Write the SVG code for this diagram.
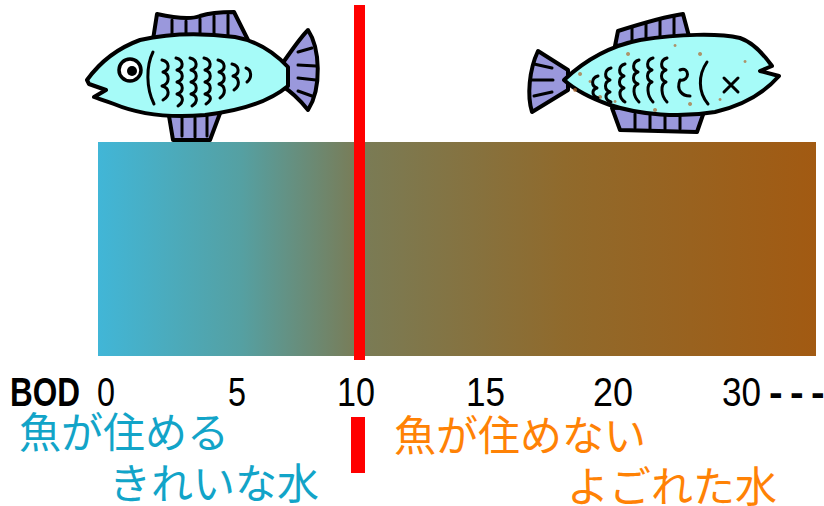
<svg xmlns="http://www.w3.org/2000/svg" width="824" height="506" viewBox="0 0 824 506">
  <defs>
    <linearGradient id="water" x1="0" y1="0" x2="1" y2="0">
      <stop offset="0" stop-color="#41b6d7"/>
      <stop offset="0.2" stop-color="#55a0a2"/>
      <stop offset="0.36" stop-color="#797c57"/>
      <stop offset="0.65" stop-color="#906a2c"/>
      <stop offset="1" stop-color="#a25a12"/>
    </linearGradient>
    <style>
      .outline { stroke: #000; stroke-width: 4; stroke-linejoin: round; stroke-linecap: round; }
      .body { fill: #a6fbf8; }
      .fin { fill: #9a98dc; }
      .line { fill: none; stroke: #000; stroke-width: 3; stroke-linecap: round; stroke-linejoin: round; }
      .num { font-family: "Liberation Sans", "DejaVu Sans", sans-serif; font-size: 41px; fill: #000; }
      .jp { font-family: "Noto Sans CJK JP", sans-serif; font-size: 42px; }
      .clean { fill: #12a4c8; }
      .dirty { fill: #ff8205; }
      .marker { fill: #ff0000; }
      .speck { fill: #b0662e; opacity: 0.7; }
    </style>
  </defs>

  <!-- water quality scale -->
  <g id="scale-bar">
    <rect x="98" y="142" width="718" height="214" fill="url(#water)"/>
  </g>

  <!-- healthy fish, facing left -->
  <g id="fish-healthy">
    <path class="fin outline" d="M152,46 L157,14 C175,18 190,20 200,16 C212,12 225,12 234,12 L250,44 Z"/>
    <path class="line" d="M172,20 V40 M186,21 V42 M200,19 V42 M214,16 V42 M228,15 V40"/>
    <path class="fin outline" d="M168,110 L173,140 L210,140 L222,108 Z"/>
    <path class="line" d="M182,118 V136 M195,118 V137 M207,116 V136"/>
    <path class="fin outline" d="M282,64 C292,50 300,38 308,30 C320,48 322,88 308,110 C300,100 292,92 282,86 Z"/>
    <path class="line" d="M298,52 L312,48 M298,65 L316,66 M298,78 L316,80 M298,91 L312,96"/>
    <path class="body outline" d="M87,80 C100,62 118,48 140,40 C170,33 205,33 235,37 C258,41 274,52 288,67 L288,86 C270,101 240,111 205,115 C170,118 138,114 114,104 C106,101 99,99 94,97 L106,90 L89,84 Z"/>
    <circle cx="130" cy="70" r="11" fill="#fff" stroke="#000" stroke-width="3.5"/>
    <circle cx="132" cy="71" r="5" fill="#000"/>
    <path class="line" d="M153,52 C146,66 146,88 154,104"/>
    <path class="line" d="M162,60 C170,62 170,70 163,72 C170,74 170,84 162,86 C170,88 170,96 163,100"/>
    <path class="line" d="M176,58 C184,60 184,68 177,70 C184,72 184,80 177,82 C184,84 184,92 177,94 C184,96 184,102 178,106"/>
    <path class="line" d="M190,58 C198,60 198,68 191,70 C198,72 198,80 191,82 C198,84 198,92 191,94 C198,96 198,102 192,106"/>
    <path class="line" d="M204,58 C212,60 212,68 205,70 C212,72 212,80 205,82 C212,84 212,92 205,94 C212,96 212,100 206,104"/>
    <path class="line" d="M218,60 C226,62 226,70 219,72 C226,74 226,82 219,84 C226,86 226,94 220,98"/>
    <path class="line" d="M232,64 C240,66 240,74 233,76 C240,78 240,86 234,90"/>
    <path class="line" d="M246,68 C252,70 252,78 247,82"/>
  </g>

  <!-- dead fish, facing right -->
  <g id="fish-dead">
    <path class="fin outline" d="M615,46 L618,31 C640,24 662,17 683,14 L690,40 Z"/>
    <path class="line" d="M632,27 V42 M646,23 V40 M660,19 V40 M674,16 V40"/>
    <path class="fin outline" d="M612,108 L620,130 L697,132 L706,106 Z"/>
    <path class="line" d="M635,114 V128 M650,114 V129 M665,114 V129 M680,112 V129"/>
    <path class="fin outline" d="M568,70 L538,51 C529,70 527,96 532,112 L568,90 Z"/>
    <path class="line" d="M534,64 L552,68 M532,80 L553,80 M534,96 L552,92"/>
    <path class="body outline" d="M564,80 C585,60 610,46 640,40 C680,34 718,33 740,38 C752,42 762,52 772,66 L760,71 L779,76 C765,92 745,105 715,112 C680,118 640,115 610,105 C590,98 575,90 564,80 Z"/>
    <path class="speck" d="M580,72 a2,2 0 1,0 0.1,0 Z M600,95 a2,2 0 1,0 0.1,0 Z M628,52 a2,2 0 1,0 0.1,0 Z M675,44 a1.5,1.5 0 1,0 0.1,0 Z M700,52 a2,2 0 1,0 0.1,0 Z M745,60 a1.5,1.5 0 1,0 0.1,0 Z M690,102 a2,2 0 1,0 0.1,0 Z M655,108 a2,2 0 1,0 0.1,0 Z M720,98 a1.5,1.5 0 1,0 0.1,0 Z M590,80 a1.5,1.5 0 1,0 0.1,0 Z M615,100 a1.5,1.5 0 1,0 0.1,0 Z M575,88 a2,2 0 1,0 0.1,0 Z"/>
    <path class="line" d="M724,78 L738,92 M738,78 L724,92"/>
    <path class="line" d="M707,62 C698,75 698,92 708,104"/>
    <path class="line" d="M598,76 C591,78 591,86 597,88 C591,90 592,96 598,98"/>
    <path class="line" d="M611,68 C604,70 604,78 610,80 C604,82 604,90 610,92 C604,94 605,100 611,102"/>
    <path class="line" d="M625,64 C618,66 618,74 624,76 C618,78 618,86 624,88 C618,90 619,98 625,102"/>
    <path class="line" d="M639,60 C632,62 632,70 638,72 C632,74 632,82 638,84 C632,86 633,96 639,102"/>
    <path class="line" d="M653,58 C646,60 646,68 652,70 C646,72 646,80 652,82 C646,84 647,96 653,102"/>
    <path class="line" d="M667,58 C660,60 660,68 666,70 C660,72 660,80 666,82 C660,84 661,96 667,102"/>
    <path class="line" d="M680,70 C690,66 690,82 680,80 C676,90 682,96 690,96"/>
  </g>

  <!-- threshold marker at BOD 10 -->
  <g id="threshold">
    <rect class="marker" x="354" y="5" width="11" height="355"/>
    <rect class="marker" x="351" y="417" width="14" height="56"/>
  </g>

  <!-- BOD axis -->
  <g id="axis">
    <text class="num" x="10" y="406" font-weight="bold" textLength="70" lengthAdjust="spacingAndGlyphs">BOD</text>
    <text class="num" x="97" y="406" textLength="18" lengthAdjust="spacingAndGlyphs">0</text>
    <text class="num" x="228" y="406" textLength="18" lengthAdjust="spacingAndGlyphs">5</text>
    <text class="num" x="337" y="406" textLength="38" lengthAdjust="spacingAndGlyphs">10</text>
    <text class="num" x="466" y="406" textLength="39" lengthAdjust="spacingAndGlyphs">15</text>
    <text class="num" x="593" y="406" textLength="40" lengthAdjust="spacingAndGlyphs">20</text>
    <text class="num" x="722" y="406" textLength="39" lengthAdjust="spacingAndGlyphs">30</text>
    <text class="num" x="769 790 811" y="406" font-weight="bold">---</text>
  </g>

  <!-- labels -->
  <g id="label-clean">
    <text class="jp clean" x="19" y="448">魚が住める</text>
    <text class="jp clean" x="109" y="499">きれいな水</text>
  </g>
  <g id="label-dirty">
    <text class="jp dirty" x="394" y="451">魚が住めない</text>
    <text class="jp dirty" x="567" y="502">よごれた水</text>
  </g>
</svg>
